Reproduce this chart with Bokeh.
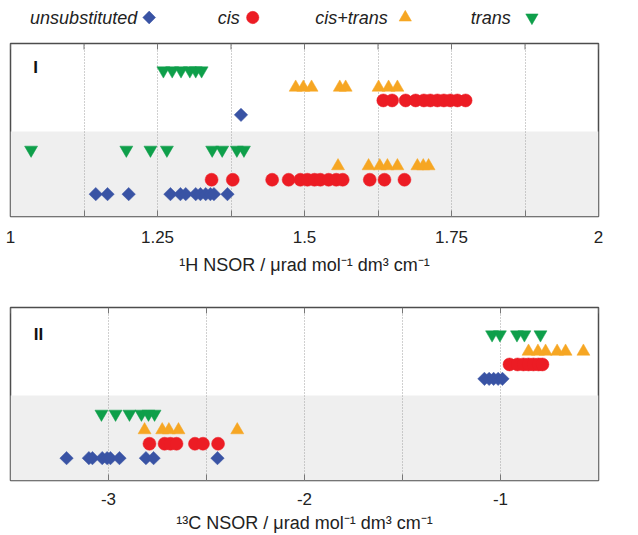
from bokeh.plotting import figure
from bokeh.layouts import column
from bokeh.models import (FixedTicker, BoxAnnotation, Label, Range1d, CustomJSTickFormatter)
from bokeh.core.properties import value
from bokeh.embed import file_html
from bokeh.resources import INLINE

# ---------------- data ----------------
SERIES = ["unsubstituted", "cis", "cis+trans", "trans"]

# Panel I : 1H NSOR
h_unsub_E0 = [1.392]
h_unsub_C0 = [1.145, 1.165, 1.201, 1.272, 1.289, 1.298, 1.315, 1.323, 1.332, 1.340, 1.346, 1.369]
h_cis_E0 = [1.634, 1.649, 1.672, 1.689, 1.703, 1.714, 1.726, 1.737, 1.748, 1.760, 1.774]
h_cis_C0 = [1.342, 1.378, 1.445, 1.473, 1.493, 1.505, 1.517, 1.527, 1.541, 1.554, 1.565, 1.611, 1.636, 1.670]
h_ct_E0 = [1.485, 1.498, 1.512, 1.560, 1.570, 1.626, 1.643, 1.658]
h_ct_C0 = [1.557, 1.609, 1.628, 1.641, 1.658, 1.692, 1.702, 1.711]
h_trans_E0 = [1.260, 1.275, 1.290, 1.305, 1.315, 1.325]
h_trans_C0 = [1.035, 1.197, 1.238, 1.266, 1.343, 1.360, 1.385, 1.397]

# Panel II : 13C NSOR
c_unsub_E1 = [-1.082, -1.058, -1.035, -1.012, -0.990]
c_unsub_C1 = [-3.214, -3.100, -3.082, -3.032, -3.007, -2.990, -2.944, -2.809, -2.770, -2.444]
c_cis_E1 = [-0.954, -0.913, -0.883, -0.857, -0.832, -0.806, -0.786]
c_cis_C1 = [-2.791, -2.714, -2.684, -2.653, -2.559, -2.518, -2.441]
c_ct_E1 = [-0.857, -0.809, -0.770, -0.711, -0.668, -0.577]
c_ct_C1 = [-2.816, -2.726, -2.692, -2.643, -2.343]
c_trans_E1 = [-1.043, -1.003, -0.916, -0.878, -0.796]
c_trans_C1 = [-3.036, -2.964, -2.893, -2.832, -2.796, -2.765]

H_TICKS = [1, 1.25, 1.5, 1.75, 2]
H_MINOR = [1.125, 1.375, 1.625, 1.875]
C_TICKS = [-3, -2, -1]
C_MINOR = [-3.5, -2.5, -1.5, -0.5]

# ---------------- styles / layout ----------------
FONT = "Liberation Sans"
COLORS = {"unsubstituted": "#3953a4", "cis": "#ec1c24", "cis+trans": "#f6a623", "trans": "#0e9f4a"}
MARKERS = {"unsubstituted": "square", "cis": "circle", "cis+trans": "triangle", "trans": "inverted_triangle"}
SIZES = {"unsubstituted": 9.5, "cis": 13, "cis+trans": 13, "trans": 13}
ANGLES = {"unsubstituted": 0.785398, "cis": 0, "cis+trans": 0, "trans": 0}
# row level (E row, C row) within each panel (y range 0..12)
ROWS = {"unsubstituted": (7.05, 1.55), "cis": (8.05, 2.55), "cis+trans": (8.95, 3.5), "trans": (10.12, 4.62)}
BAND_TOP = 5.9
W = 636
TICK_PX = 6


def panel(xr, ticks, minor, data, title, roman, roman_xy, elabel, clabel, label_y,
          height, top, bottom, std, lstd):
    p = figure(width=W, height=height, output_backend="svg", toolbar_location=None,
               x_range=Range1d(*xr), y_range=Range1d(0, 12), y_axis_location=None,
               min_border_left=10, min_border_right=W - 598, min_border_top=top,
               min_border_bottom=bottom, background_fill_color="white",
               border_fill_color="white", outline_line_color="#4d4d4d",
               outline_line_width=1.5)
    ticker = FixedTicker(ticks=ticks, minor_ticks=minor)
    ax = p.xaxis[0]
    ax.ticker = ticker
    ax.formatter = CustomJSTickFormatter(code="return String(tick)")
    ax.axis_line_color = None
    ax.major_tick_in = TICK_PX
    ax.major_tick_out = 0
    ax.minor_tick_in = TICK_PX
    ax.minor_tick_out = 0
    ax.major_tick_line_color = "#777777"
    ax.minor_tick_line_color = "#777777"
    ax.major_label_text_font = FONT
    ax.major_label_text_font_size = "17px"
    ax.major_label_text_color = "#222222"
    ax.major_label_standoff = std
    ax.axis_label = title
    ax.axis_label_text_font = FONT
    ax.axis_label_text_font_size = "18px"
    ax.axis_label_text_font_style = "normal"
    ax.axis_label_text_color = "#222222"
    ax.axis_label_standoff = lstd

    # tick marks along the top edge (same ticker positions)
    frame_h = height - top - bottom
    tl = TICK_PX * 12.0 / frame_h
    allt = list(ticks) + list(minor)
    p.segment(x0=allt, y0=[12] * len(allt), x1=allt, y1=[12 - tl] * len(allt),
              line_color="#777777", line_width=1)

    p.xgrid.ticker = ticker
    p.xgrid.grid_line_color = "#a0a0a0"
    p.xgrid.grid_line_dash = "1 2"
    p.xgrid.minor_grid_line_color = "#a0a0a0"
    p.xgrid.minor_grid_line_dash = "1 2"
    p.ygrid.visible = False

    p.add_layout(BoxAnnotation(top=BAND_TOP, fill_color="#efefef", fill_alpha=1.0,
                               line_color=None, level="image"))

    for s in SERIES:
        e_vals, c_vals = data[s]
        ye, yc = ROWS[s]
        xs = list(e_vals) + list(c_vals)
        ys = [ye] * len(e_vals) + [yc] * len(c_vals)
        p.scatter(xs, ys, marker=MARKERS[s], size=SIZES[s], angle=ANGLES[s],
                  fill_color=COLORS[s], line_color=COLORS[s], line_width=0.5)

    p.add_layout(Label(x=roman_xy[0], y=roman_xy[1], text=roman, text_font=FONT,
                       text_font_size="17px", text_font_style="bold", text_align="center",
                       text_baseline="middle", text_color="#111111"))
    for lab, sub, yy in [(elabel[0], elabel[1], label_y[0]), (clabel[0], clabel[1], label_y[1])]:
        p.add_layout(Label(x=xr[1], y=yy, x_offset=17, text=lab, text_font=FONT,
                           text_font_size="18px", text_baseline="middle", text_color="#222222"))
        p.add_layout(Label(x=xr[1], y=yy, x_offset=30, y_offset=-6, text=sub, text_font=FONT,
                           text_font_size="12px", text_baseline="middle", text_color="#222222"))
    return p


h_data = {"unsubstituted": (h_unsub_E0, h_unsub_C0), "cis": (h_cis_E0, h_cis_C0),
          "cis+trans": (h_ct_E0, h_ct_C0), "trans": (h_trans_E0, h_trans_C0)}
c_data = {"unsubstituted": (c_unsub_E1, c_unsub_C1), "cis": (c_cis_E1, c_cis_C1),
          "cis+trans": (c_ct_E1, c_ct_C1), "trans": (c_trans_E1, c_trans_C1)}

p1 = panel((1, 2), H_TICKS, H_MINOR, h_data,
           "¹H NSOR / μrad mol⁻¹ dm³ cm⁻¹", "I", (1.0425, 10.35),
           ("E", "0"), ("C", "0"), (8.75, 2.7), 250, 8, 69, 14, 9)
p2 = panel((-3.5, -0.5), C_TICKS, C_MINOR, c_data,
           "¹³C NSOR / μrad mol⁻¹ dm³ cm⁻¹", "II", (-3.357, 10.15),
           ("E", "1"), ("C", "1"), (8.95, 3.0), 250, 22, 54, 12, 5)

# ---------------- legend row ----------------
LEG_H = 35
leg = figure(width=W, height=LEG_H, output_backend="svg", toolbar_location=None,
             x_range=Range1d(0, W), y_range=Range1d(0, LEG_H), x_axis_location=None,
             y_axis_location=None, min_border=0, outline_line_color=None,
             background_fill_color="white", border_fill_color="white")
leg.grid.visible = False
LEG_TEXT_END = [137, 248, 408, 541]
LEG_MARK_X = [150, 262, 427, 564]
LEG_Y = 18
for s, tx, mx in zip(SERIES, LEG_TEXT_END, LEG_MARK_X):
    leg.text(x=[tx], y=[LEG_Y], text=[s], text_font=value(FONT), text_font_style="italic",
             text_font_size="18px", text_align="right", text_baseline="middle",
             text_color="#222222")
    leg.scatter([mx], [LEG_Y], marker=MARKERS[s], size=SIZES[s] * 0.95, angle=ANGLES[s],
                fill_color=COLORS[s], line_color=COLORS[s], line_width=0.5)

layout = column(leg, p1, p2, spacing=0)
open("out.html", "w").write(file_html(layout, INLINE))
